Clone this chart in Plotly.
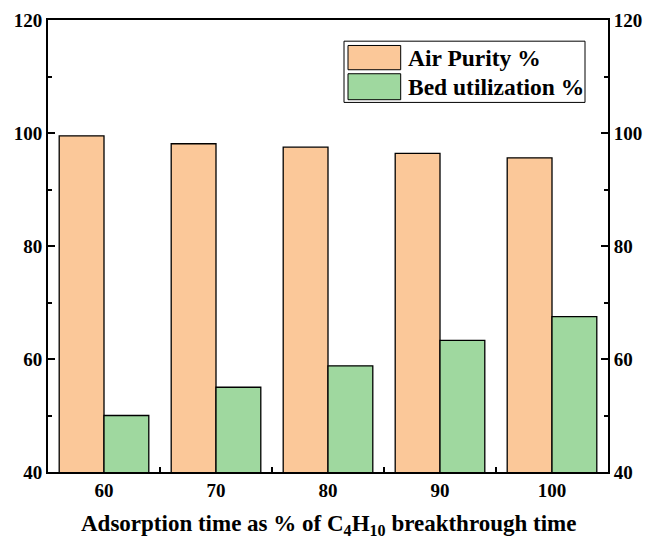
import plotly.graph_objects as go

# Data
categories = ["60", "70", "80", "90", "100"]
air_purity = [99.5, 98.1, 97.5, 96.4, 95.6]
bed_utilization = [50.0, 55.0, 58.8, 63.3, 67.5]
series_names = ["Air Purity %", "Bed utilization %"]
series_colors = ["#FBC899", "#9FD89F"]
y_ticks = [40, 60, 80, 100, 120]
x_title = "Adsorption time as % of C<sub>4</sub>H<sub>10</sub> breakthrough time"

W, H = 648, 538
ML, MR, MT, MB = 48, 40, 19.5, 66
FONT = "Liberation Serif"

fig = go.Figure()
for name, vals, col in zip(series_names, [air_purity, bed_utilization], series_colors):
    fig.add_trace(go.Bar(
        x=categories, y=vals, name=name,
        marker=dict(color=col, line=dict(color="black", width=1.3)),
        showlegend=False,
    ))

# invisible trace that carries the right-hand axis
fig.add_trace(go.Scatter(x=categories, y=air_purity, yaxis="y2",
                         mode="markers", marker=dict(opacity=0),
                         hoverinfo="skip", showlegend=False))

tickfont = dict(family=FONT, size=19, color="black", weight="bold")
yaxis_style = dict(
    range=[40, 120], tickvals=y_ticks,
    ticks="inside", ticklen=7, tickwidth=2, tickcolor="black",
    minor=dict(dtick=10, ticks="inside", ticklen=4, tickwidth=1.5, tickcolor="black"),
    showline=True, linecolor="black", linewidth=2,
    showgrid=False, zeroline=False, tickfont=tickfont, automargin=False,
)

fig.update_layout(
    width=W, height=H,
    margin=dict(l=ML, r=MR, t=MT, b=MB),
    paper_bgcolor="white", plot_bgcolor="white",
    barmode="group", bargap=0.2, bargroupgap=0,
    font=dict(family=FONT, color="black"),
    xaxis=dict(
        type="category", tickson="boundaries",
        ticks="inside", ticklen=5, tickwidth=2, tickcolor="black",
        showline=True, linecolor="black", linewidth=2, mirror=True,
        showgrid=False, tickfont=tickfont, automargin=False,
    ),
    yaxis=yaxis_style,
    yaxis2=dict(yaxis_style, overlaying="y", side="right"),
)

# Legend box and axis title placed in paper coordinates
pw, ph = W - ML - MR, H - MT - MB
def px(x):
    return (x - ML) / pw
def py(y):
    return (H - MB - y) / ph

shapes = [dict(type="rect", xref="paper", yref="paper",
               x0=px(344), x1=px(585), y0=py(102), y1=py(40.7),
               line=dict(color="black", width=1), fillcolor="white", layer="above")]
annotations = [dict(xref="paper", yref="paper", x=px(328), y=py(525),
                    xanchor="center", yanchor="middle", showarrow=False,
                    text=x_title,
                    font=dict(family=FONT, size=23, color="black", weight="bold"))]
rows = [(45, 69.3, 57.5), (73.3, 99.3, 86.5)]
for (top, bot, mid), name, col in zip(rows, series_names, series_colors):
    shapes.append(dict(type="rect", xref="paper", yref="paper",
                       x0=px(348), x1=px(400.7), y0=py(bot), y1=py(top),
                       line=dict(color="black", width=1), fillcolor=col, layer="above"))
    annotations.append(dict(xref="paper", yref="paper", x=px(406), y=py(mid),
                            xanchor="left", yanchor="middle", showarrow=False,
                            text=name,
                            font=dict(family=FONT, size=23.5, color="black", weight="bold")))
fig.update_layout(shapes=shapes, annotations=annotations)

fig.write_html("out.html")
